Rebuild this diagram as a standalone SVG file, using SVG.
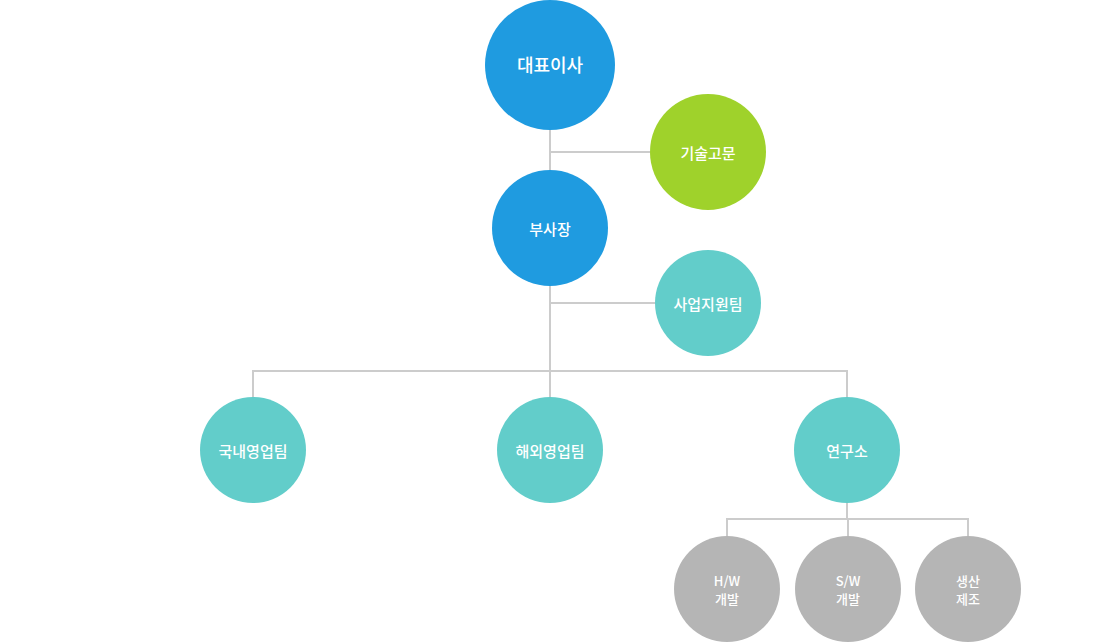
<svg xmlns="http://www.w3.org/2000/svg" width="1100" height="642" viewBox="0 0 1100 642">
<style>
.l{stroke:#cccccc;stroke-width:2;fill:none}
.b{fill:#1f9be0}
.g{fill:#9fd22b}
.t{fill:#62cdca}
.s{fill:#b5b5b5}
text{fill:#ffffff;font-family:"Noto Sans CJK KR","Noto Sans",sans-serif;font-weight:500;text-anchor:middle;dominant-baseline:central}
.f1{font-size:18px}
.f2{font-size:15px}
.f3{font-size:13px}
</style>
<rect width="1100" height="642" fill="#ffffff"/>
<g id="connectors">
<path class="l" d="M550 130V170M550 152H650"/>
<path class="l" d="M550 286V397M550 303H655"/>
<path class="l" d="M253 397V371H847V397"/>
<path class="l" d="M847 503V519M727 536V519H968V536M848 519V536"/>
</g>
<g id="ceo"><circle class="b" cx="550" cy="65" r="65"/><text class="f1" x="550" y="64">대표이사</text></g>
<g id="advisor"><circle class="g" cx="708" cy="152" r="58"/><text class="f2" x="708" y="152">기술고문</text></g>
<g id="vp"><circle class="b" cx="550" cy="228" r="58"/><text class="f2" x="550" y="228">부사장</text></g>
<g id="support"><circle class="t" cx="708" cy="303" r="53"/><text class="f2" x="708" y="303">사업지원팀</text></g>
<g id="domestic"><circle class="t" cx="253" cy="450" r="53"/><text class="f2" x="253" y="450">국내영업팀</text></g>
<g id="overseas"><circle class="t" cx="550" cy="450" r="53"/><text class="f2" x="550" y="450">해외영업팀</text></g>
<g id="lab"><circle class="t" cx="847" cy="450" r="53"/><text class="f2" x="847" y="450">연구소</text></g>
<g id="hw"><circle class="s" cx="727" cy="589" r="53"/><text class="f3" x="727" y="580">H/W</text><text class="f3" x="727" y="598">개발</text></g>
<g id="sw"><circle class="s" cx="848" cy="589" r="53"/><text class="f3" x="848" y="580">S/W</text><text class="f3" x="848" y="598">개발</text></g>
<g id="prod"><circle class="s" cx="968" cy="589" r="53"/><text class="f3" x="968" y="580">생산</text><text class="f3" x="968" y="598">제조</text></g>
</svg>
